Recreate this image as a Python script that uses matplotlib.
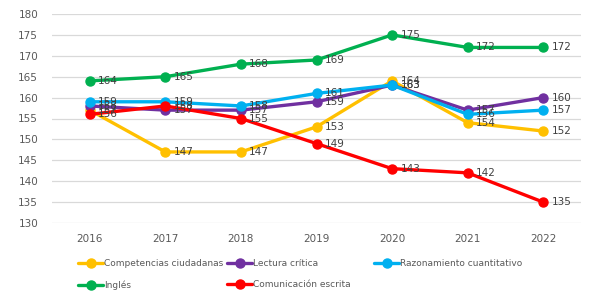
import matplotlib

matplotlib.use("Agg")
import matplotlib.pyplot as plt

years = ["2016", "2017", "2018", "2019", "2020", "2021", "2022"]
series_names = [
    "Competencias ciudadanas",
    "Inglés",
    "Lectura crítica",
    "Comunicación escrita",
    "Razonamiento cuantitativo",
]
competencias = [157, 147, 147, 153, 164, 154, 152]
ingles = [164, 165, 168, 169, 175, 172, 172]
lectura = [158, 157, 157, 159, 163, 157, 160]
comunicacion = [156, 158, 155, 149, 143, 142, 135]
razonamiento = [159, 159, 158, 161, 163, 156, 157]
yticks = [130, 135, 140, 145, 150, 155, 160, 165, 170, 175, 180]

colors = {
    "Competencias ciudadanas": "#FFC000",
    "Inglés": "#00B050",
    "Lectura crítica": "#7030A0",
    "Comunicación escrita": "#FF0000",
    "Razonamiento cuantitativo": "#00B0F0",
}
values = {
    "Competencias ciudadanas": competencias,
    "Inglés": ingles,
    "Lectura crítica": lectura,
    "Comunicación escrita": comunicacion,
    "Razonamiento cuantitativo": razonamiento,
}
# drawing order (last on top)
draw_order = [
    "Competencias ciudadanas",
    "Inglés",
    "Lectura crítica",
    "Razonamiento cuantitativo",
    "Comunicación escrita",
]

fig = plt.figure(figsize=(5.98, 3.04), dpi=100)
ax = fig.add_axes([52 / 598, 1 - 223 / 304, (581 - 52) / 598, (223 - 14) / 304])

x = list(range(len(years)))
handles = {}
for name in draw_order:
    (ln,) = ax.plot(x, values[name], color=colors[name], lw=2.4, marker="o", ms=6.5,
                    solid_capstyle="round", label=name, zorder=3)
    handles[name] = ln
    for xi, v in zip(x, values[name]):
        ax.annotate(str(v), (xi, v), xytext=(6, 0), textcoords="offset points",
                    ha="left", va="center", fontsize=7.5, color="#404040", zorder=4)

ax.set_xlim(-0.5, len(years) - 0.5)
ax.set_ylim(130, 180)
ax.set_yticks(yticks)
ax.set_xticks(x)
ax.set_xticklabels(years)
ax.grid(axis="y", color="#D9D9D9", lw=0.9)
ax.set_axisbelow(True)
for s in ax.spines.values():
    s.set_visible(False)
ax.tick_params(axis="both", length=0, labelsize=7.5, labelcolor="#595959")
ax.tick_params(axis="y", pad=10)
ax.tick_params(axis="x", pad=8)

# legend laid out in three fixed-width columns, like the spreadsheet original
columns = [series_names[0:2], series_names[2:4], series_names[4:5]]
col_x = [78, 227, 374]
for names, cx in zip(columns, col_x):
    leg = fig.legend([handles[n] for n in names], names, ncol=1,
                     loc="upper left", bbox_to_anchor=(cx / 598, 1 - 259 / 304),
                     frameon=False, fontsize=6.5, handlelength=2.8, handletextpad=0.1,
                     labelspacing=1.35, borderaxespad=0, borderpad=0)
    for t in leg.get_texts():
        t.set_color("#595959")

fig.savefig("out.png", dpi=100)
